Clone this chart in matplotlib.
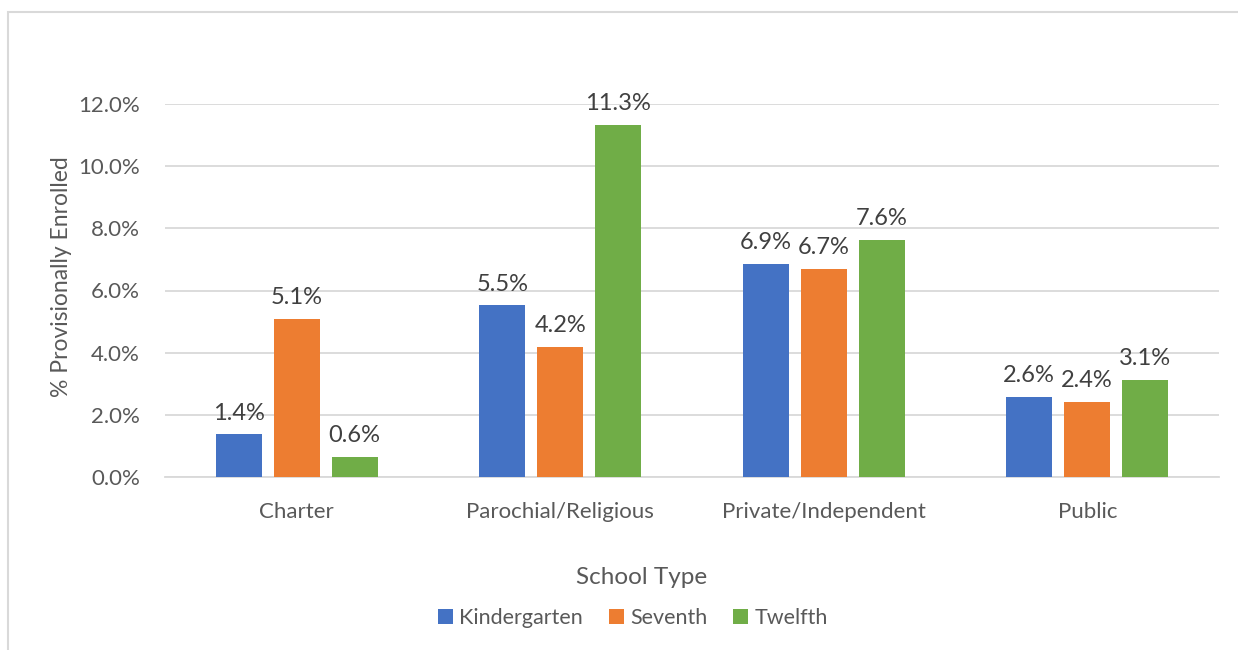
import matplotlib.pyplot as plt
import numpy as np
from matplotlib.patches import Rectangle

plt.rcParams.update(
    {
        "font.family": ["Lato", "DejaVu Sans"],
        "font.size": 16,
        "text.color": "#595959",
    }
)

categories = ["Charter", "Parochial/Religious", "Private/Independent", "Public"]
series = ["Kindergarten", "Seventh", "Twelfth"]
kindergarten = [1.37, 5.52, 6.86, 2.58]
seventh = [5.08, 4.18, 6.69, 2.42]
twelfth = [0.64, 11.33, 7.63, 3.12]
colors = ["#4472C4", "#ED7D31", "#70AD47"]

W, H = 1238, 650
fig = plt.figure(figsize=(W / 100, H / 100), dpi=100)
ax = fig.add_axes([165 / W, 1 - 477 / H, (1219 - 165) / W, (477 - 104) / H])

# chart border (cut off on right and bottom like the screenshot)
fig.patches.append(
    Rectangle((8 / W, -0.05), 1.2, 1 - 12 / H + 0.05, transform=fig.transFigure,
              fill=False, edgecolor="#D9D9D9", linewidth=1.5)
)

x = np.arange(len(categories))
step = 0.22
width = 0.175
for i, (name, vals) in enumerate(zip(series, [kindergarten, seventh, twelfth])):
    pos = x + (i - 1) * step
    bars = ax.bar(pos, vals, width, color=colors[i], label=name, zorder=3)
    for b, v in zip(bars, vals):
        ax.text(b.get_x() + b.get_width() / 2, v + 0.35, f"{v:.1f}%",
                ha="center", va="bottom", fontsize=17, color="#404040", clip_on=False)

ax.set_xlim(-0.5, len(categories) - 0.5)
ax.set_ylim(0, 12)
ax.set_yticks(np.arange(0, 12.1, 2))
ax.set_yticklabels([f"{t:.1f}%" for t in np.arange(0, 12.1, 2)])
ax.set_xticks(x)
ax.set_xticklabels(categories)
ax.grid(axis="y", color="#D9D9D9", linewidth=1.3, zorder=0)
for s in ["top", "right", "left"]:
    ax.spines[s].set_visible(False)
ax.spines["bottom"].set_color("#D9D9D9")
ax.spines["bottom"].set_linewidth(1.3)
ax.tick_params(length=0, colors="#595959", labelsize=16)
ax.tick_params(axis="x", pad=18)
ax.tick_params(axis="y", pad=18)

fig.text(62 / W, 1 - 277 / H, "% Provisionally Enrolled", rotation=90,
         ha="center", va="center", fontsize=16.5)
fig.text(642 / W, 1 - 578 / H, "School Type", ha="center", va="center", fontsize=17.5)

fig.legend(loc="center", bbox_to_anchor=(633 / W, 1 - 618 / H), ncol=3, frameon=False,
           handlelength=0.7, handleheight=0.7, handletextpad=0.3, columnspacing=1.2,
           fontsize=15.5)

plt.savefig("out.png", dpi=100)
